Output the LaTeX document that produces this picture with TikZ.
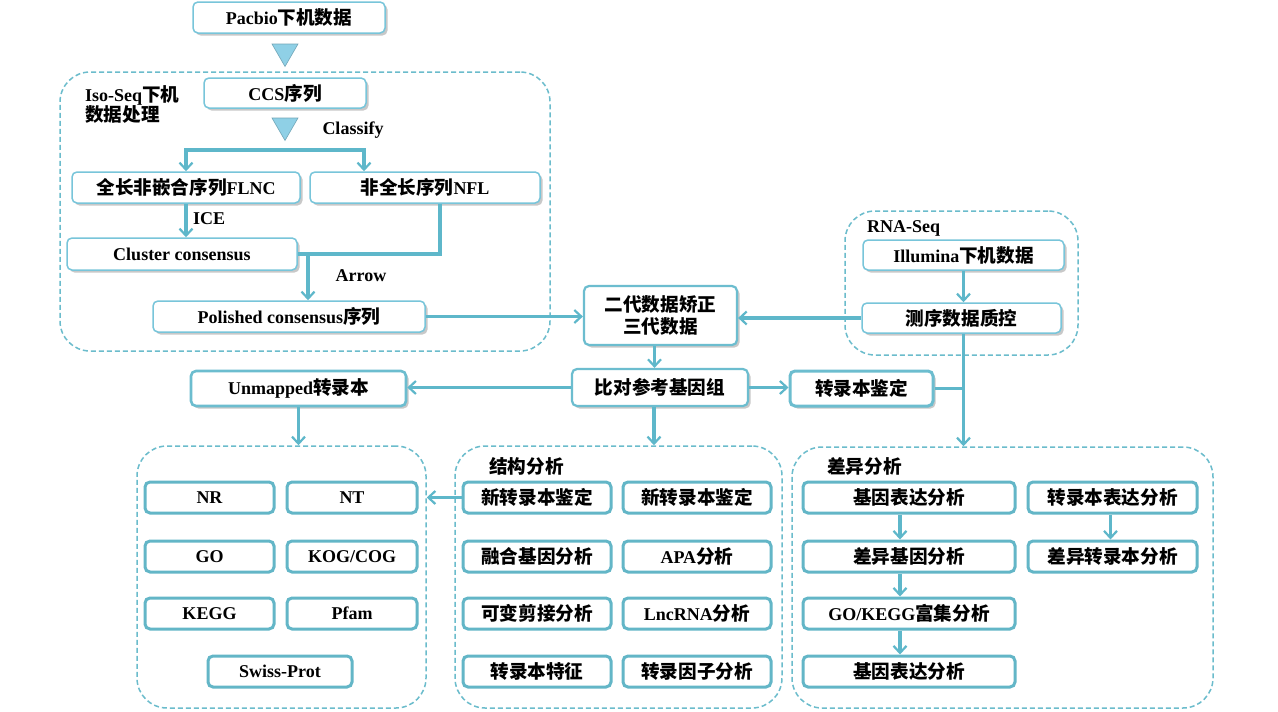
\documentclass[tikz,border=0pt]{standalone}
\usepackage{fontspec}
\setmainfont{Liberation Serif}
\newfontfamily\cjk{Noto Sans CJK SC}
\usetikzlibrary{arrows.meta,shadows,shapes.geometric,calc}
\definecolor{thinc}{HTML}{78C5DA}
\definecolor{midc}{HTML}{6CBDCF}
\definecolor{thickc}{HTML}{63B6C7}
\definecolor{linec}{HTML}{5EB7CA}
\definecolor{dashc}{HTML}{6BBCCC}
\definecolor{trifill}{HTML}{8FD0E6}
\newcommand\zh[1]{{\cjk\bfseries\fontsize{18.6}{22}\selectfont #1}}
\tikzset{
  every node/.style={font=\fontsize{18}{22}\selectfont\bfseries},
  shad/.style={drop shadow={shadow xshift=2.5pt,shadow yshift=-2.5pt,opacity=0.3,fill=black!70}},
  thinbox/.style={draw=thinc,line width=1.5pt,rounded corners=5pt,fill=white,inner sep=0pt,shad},
  midbox/.style={draw=midc,line width=2.2pt,rounded corners=5pt,fill=white,inner sep=0pt,shad},
  thickbox/.style={draw=thickc,line width=3pt,rounded corners=5pt,fill=white,inner sep=0pt},
  group/.style={draw=dashc,line width=1.5pt,dash pattern=on 5pt off 3pt,rounded corners=30pt,inner sep=0pt},
  tri/.style={regular polygon,regular polygon sides=3,shape border rotate=180,minimum size=30pt,inner sep=0pt,fill=trifill,draw=trifill!80!black,line width=0.6pt},
  conn/.style={draw=linec,line width=3.4pt},
  arr/.style={conn,-{Straight Barb[length=7pt,width=13pt,line width=2.2pt]}},
  lbl/.style={inner sep=0pt}
}
\begin{document}
\begin{tikzpicture}[x=1pt,y=-1pt]
\useasboundingbox[fill=white] (0,0) rectangle (1278,712);

% dashed groups
\node[group,minimum width=490pt,minimum height=279pt] (iso) at (305,211.5) {};
\node[group,minimum width=233pt,minimum height=144pt] (rna) at (961.5,283) {};
\node[group,minimum width=289pt,minimum height=262pt] (anno) at (281.5,577) {};
\node[group,minimum width=327pt,minimum height=262pt] (jiegou) at (618.5,577) {};
\node[group,minimum width=421pt,minimum height=261pt] (chayi) at (1002.5,577.5) {};

% group labels
\node[lbl,anchor=north west,align=left,font=\fontsize{18}{20}\selectfont\bfseries] (isolbl) at (85,85) {Iso-Seq\zh{下机}\\\zh{数据处理}};
\node[lbl,anchor=west] (rnalbl) at (867,228) {RNA-Seq};
\node[lbl,anchor=west] (jglbl) at (489,466) {\zh{结构分析}};
\node[lbl,anchor=west] (cylbl) at (827,466) {\zh{差异分析}};

% top flow
\node[thinbox,minimum width=192pt,minimum height=31pt] (pacbio) at (289,17.5) {Pacbio\zh{下机数据}};
\node[tri] (tri1) at (285,51.5) {};
\node[thinbox,minimum width=162pt,minimum height=30pt] (ccs) at (285,93) {CCS\zh{序列}};
\node[tri] (tri2) at (285,125.5) {};
\node[lbl] (classify) at (353,130) {Classify};
\node[thinbox,minimum width=228pt,minimum height=31pt] (flnc) at (186,187.5) {\zh{全长非嵌合序列}FLNC};
\node[thinbox,minimum width=230pt,minimum height=31pt] (nfl) at (425,187.5) {\zh{非全长序列}NFL};
\node[lbl,anchor=west] (ice) at (193,219) {ICE};
\node[thinbox,minimum width=230pt,minimum height=32pt] (cluster) at (182,254) {Cluster consensus};
\node[lbl] (arrowlbl) at (361,276) {Arrow};
\node[thinbox,minimum width=272pt,minimum height=31pt] (polished) at (289,316.5) {Polished consensus\zh{序列}};

\node[midbox,minimum width=153pt,minimum height=59pt,align=center,font=\fontsize{18}{22}\selectfont\bfseries] (erdai) at (660.5,315.5) {\zh{二代数据矫正}\\\zh{三代数据}};
\node[thinbox,minimum width=201pt,minimum height=30pt] (illumina) at (963.5,255) {Illumina\zh{下机数据}};
\node[thinbox,minimum width=199pt,minimum height=30pt] (cexu) at (961.5,318) {\zh{测序数据质控}};

\node[midbox,minimum width=176pt,minimum height=37pt] (bidui) at (660,387.5) {\zh{比对参考基因组}};
\node[midbox,line width=3pt,minimum width=143pt,minimum height=35pt] (zhuanlu) at (861.5,388.5) {\zh{转录本鉴定}};
\node[midbox,line width=2.6pt,minimum width=215pt,minimum height=35pt] (unmapped) at (298.5,388.5) {Unmapped\zh{转录本}};

% annotation boxes
\node[thickbox,minimum width=129pt,minimum height=31pt] (nr) at (209.5,497.5) {NR};
\node[thickbox,minimum width=130pt,minimum height=31pt] (nt) at (352,497.5) {NT};
\node[thickbox,minimum width=129pt,minimum height=31pt] (go) at (209.5,556.5) {GO};
\node[thickbox,minimum width=130pt,minimum height=31pt] (kog) at (352,556.5) {KOG/COG};
\node[thickbox,minimum width=129pt,minimum height=31pt] (kegg) at (209.5,613.5) {KEGG};
\node[thickbox,minimum width=130pt,minimum height=31pt] (pfam) at (352,613.5) {Pfam};
\node[thickbox,minimum width=144pt,minimum height=31pt] (swiss) at (280,671.5) {Swiss-Prot};

% structure boxes
\node[thickbox,minimum width=148pt,minimum height=31pt] (xin1) at (537,497.5) {\zh{新转录本鉴定}};
\node[thickbox,minimum width=148pt,minimum height=31pt] (xin2) at (697,497.5) {\zh{新转录本鉴定}};
\node[thickbox,minimum width=148pt,minimum height=31pt] (ronghe) at (537,556.5) {\zh{融合基因分析}};
\node[thickbox,minimum width=148pt,minimum height=31pt] (apa) at (697,556.5) {APA\zh{分析}};
\node[thickbox,minimum width=148pt,minimum height=31pt] (kebian) at (537,613.5) {\zh{可变剪接分析}};
\node[thickbox,minimum width=148pt,minimum height=31pt] (lnc) at (697,613.5) {LncRNA\zh{分析}};
\node[thickbox,minimum width=148pt,minimum height=31pt] (tezheng) at (537,671.5) {\zh{转录本特征}};
\node[thickbox,minimum width=148pt,minimum height=31pt] (yinzi) at (697,671.5) {\zh{转录因子分析}};

% differential boxes
\node[thickbox,minimum width=212pt,minimum height=31pt] (g1) at (909,497.5) {\zh{基因表达分析}};
\node[thickbox,minimum width=212pt,minimum height=31pt] (g2) at (909,556.5) {\zh{差异基因分析}};
\node[thickbox,minimum width=212pt,minimum height=31pt] (g3) at (909,613.5) {GO/KEGG\zh{富集分析}};
\node[thickbox,minimum width=212pt,minimum height=31pt] (g4) at (909,671.5) {\zh{基因表达分析}};
\node[thickbox,minimum width=169pt,minimum height=31pt] (t1) at (1112.5,497.5) {\zh{转录本表达分析}};
\node[thickbox,minimum width=169pt,minimum height=31pt] (t2) at (1112.5,556.5) {\zh{差异转录本分析}};

% connectors
\coordinate (split) at (285,150);
\draw[arr] (split) -| (flnc.north);
\draw[arr] (split) -| ([xshift=-61pt]nfl.north);
\draw[arr] (flnc.south) -- (flnc.south |- cluster.north);
\draw[conn] ([xshift=15pt]nfl.south) |- (cluster.east);
\coordinate (junc) at (308,254);
\draw[arr] (junc) -- (junc |- polished.north);
\draw[arr] (polished.east) -- (polished.east -| erdai.west);
\draw[arr] (illumina.south) -- (illumina.south |- cexu.north);
\draw[arr] (cexu.west) -- (cexu.west -| erdai.east);
\draw[arr] ([xshift=-6pt]erdai.south) -- ([xshift=-6pt]erdai.south |- bidui.north);
\draw[arr] (bidui.east) -- (bidui.east -| zhuanlu.west);
\draw[arr] (bidui.west) -- (bidui.west -| unmapped.east);
\coordinate (vx) at ([xshift=2pt]cexu.south);
\draw[arr] (vx) -- (vx |- chayi.north);
\draw[conn] (zhuanlu.east) -- (zhuanlu.east -| vx);
\draw[arr] (unmapped.south) -- (unmapped.south |- anno.north);
\draw[arr] ([xshift=-6pt]bidui.south) -- ([xshift=-6pt]bidui.south |- jiegou.north);
\draw[arr] (xin1.west) -- (xin1.west -| anno.east);
\draw[arr] ([xshift=-9pt]g1.south) -- ([xshift=-9pt]g2.north);
\draw[arr] ([xshift=-9pt]g2.south) -- ([xshift=-9pt]g3.north);
\draw[arr] ([xshift=-9pt]g3.south) -- ([xshift=-9pt]g4.north);
\draw[arr] ([xshift=-2pt]t1.south) -- ([xshift=-2pt]t2.north);
\end{tikzpicture}
\end{document}
